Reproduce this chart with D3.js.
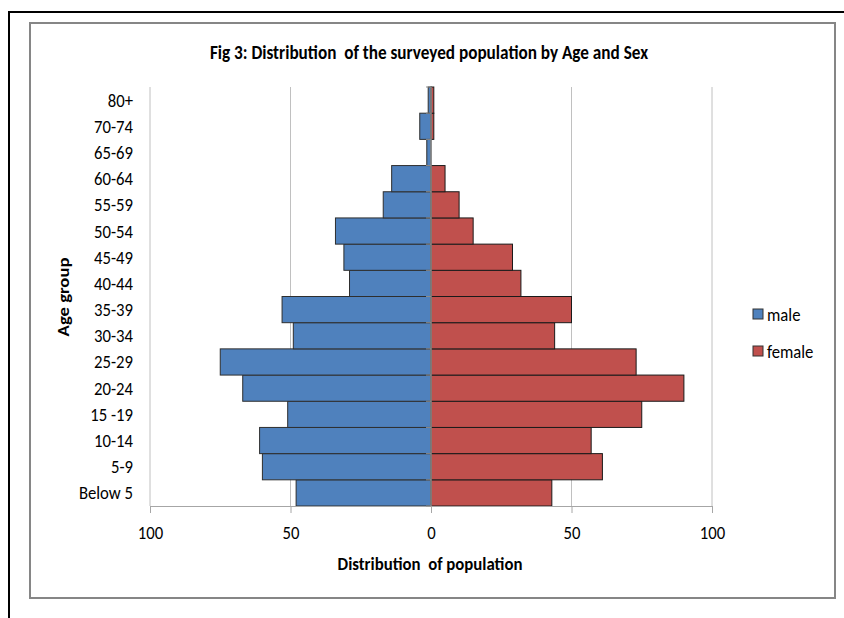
<!DOCTYPE html>
<html>
<head>
<meta charset="utf-8">
<script src="https://cdn.jsdelivr.net/npm/d3@7"></script>
<style>
  html, body { margin: 0; padding: 0; background: #fff; }
  svg { display: block; }
  text { font-family: Carlito, "Liberation Sans", Arial, sans-serif; }
</style>
</head>
<body>
<svg id="chart" width="844" height="618"></svg>
<script>
const categories = ["Below 5", "5-9", "10-14", "15 -19", "20-24", "25-29", "30-34", "35-39",
                    "40-44", "45-49", "50-54", "55-59", "60-64", "65-69", "70-74", "80+"];
const male   = [48, 60, 61, 51, 67, 75, 49, 53, 29, 31, 34, 17, 14, 1.5, 4, 1];
const female = [43, 61, 57, 75, 90, 73, 44, 50, 32, 29, 15, 10, 5, 0, 1, 1];
const xTicks = [-100, -50, 0, 50, 100];
const seriesNames = ["male", "female"];
const seriesColors = ["#4F81BD", "#C0504D"];
const titleText = "Fig 3: Distribution  of the surveyed population by Age and Sex";
const xTitle = "Distribution  of population";
const yTitle = "Age group";

const SY = 1.11;   // vertical stretch of glyphs seen in the reference
const FS = 16.7;

const svg = d3.select("#chart");

function label(g, x, y, str, opts = {}) {
  return g.append("text")
    .attr("transform", `translate(${x},${y}) scale(1,${SY})`)
    .attr("dy", "0.35em")
    .attr("text-anchor", opts.anchor || "start")
    .attr("font-size", opts.size || FS)
    .attr("font-weight", opts.bold ? "bold" : "normal")
    .attr("fill", "#000")
    .style("white-space", "pre")
    .text(str);
}

// outer frame (extends beyond window on right/bottom)
svg.append("rect").attr("x", 9).attr("y", 12).attr("width", 900).attr("height", 700)
  .attr("fill", "none").attr("stroke", "#000").attr("stroke-width", 2);
// chart area frame
svg.append("rect").attr("x", 30).attr("y", 23).attr("width", 805).attr("height", 575)
  .attr("fill", "#fff").attr("stroke", "#868686").attr("stroke-width", 2);

const x = d3.scaleLinear().domain([-100, 100]).range([150, 712]);
const y = d3.scaleBand().domain(categories.slice().reverse()).range([87, 506]).padding(0);

const data = categories.map((c, i) => ({ cat: c, male: male[i], female: female[i] }));

// gridlines
svg.append("g").selectAll("line").data(xTicks.filter(d => d !== 0)).join("line")
  .attr("x1", d => x(d)).attr("x2", d => x(d))
  .attr("y1", 87).attr("y2", 506)
  .attr("stroke", "#c0c0c0").attr("stroke-width", 1);

// bars
const bars = svg.append("g");
bars.selectAll("rect.male").data(data).join("rect").attr("class", "male")
  .attr("x", d => x(-d.male)).attr("width", d => x(0) - x(-d.male))
  .attr("y", d => y(d.cat)).attr("height", y.bandwidth())
  .attr("fill", seriesColors[0]).attr("stroke", "#2e2e2e").attr("stroke-width", 1);
bars.selectAll("rect.female").data(data.filter(d => d.female > 0)).join("rect").attr("class", "female")
  .attr("x", x(0)).attr("width", d => x(d.female) - x(0))
  .attr("y", d => y(d.cat)).attr("height", y.bandwidth())
  .attr("fill", seriesColors[1]).attr("stroke", "#1a1a1a").attr("stroke-width", 1);

// x axis
const xAxis = d3.axisBottom(x).tickValues(xTicks).tickFormat(d => Math.abs(d)).tickSize(7);
const gx = svg.append("g").attr("transform", "translate(0,506)").call(xAxis);
gx.select(".domain").attr("stroke", "#a6a6a6");
gx.selectAll(".tick line").attr("stroke", "#a6a6a6");
gx.selectAll(".tick text")
  .attr("y", null).attr("dy", "0.35em")
  .attr("transform", `translate(0,26) scale(1,${SY})`)
  .attr("font-size", FS).attr("fill", "#000")
  .style("font-family", "Carlito, 'Liberation Sans', Arial, sans-serif");

// y axis at zero
const gy = svg.append("g").attr("transform", `translate(${x(0)},0)`);
gy.append("line").attr("x1", 0).attr("x2", 0).attr("y1", 87).attr("y2", 506)
  .attr("stroke", "#8c8c8c").attr("stroke-width", 1.5);
// tick marks at category boundaries
const bounds = y.domain().map(c => y(c)).concat([506]);
gy.selectAll("line.tk").data(bounds).join("line").attr("class", "tk")
  .attr("x1", -5).attr("x2", 0).attr("y1", d => d).attr("y2", d => d)
  .attr("stroke", "#8c8c8c").attr("stroke-width", 1);

// category labels
const gl = svg.append("g");
categories.forEach(c => label(gl, 133, y(c) + y.bandwidth() / 2, c, { anchor: "end" }));

// title
label(svg, 429, 52, titleText, { anchor: "middle", bold: true, size: 17.2 });

// axis titles
label(svg, 430, 563, xTitle, { anchor: "middle", bold: true, size: 16.8 });
svg.append("text")
  .attr("transform", `translate(63,297) rotate(-90) scale(${SY},1)`)
  .attr("dy", "0.35em").attr("text-anchor", "middle")
  .attr("font-size", 16.8).attr("font-weight", "bold").attr("fill", "#000")
  .text(yTitle);

// legend
const lg = svg.append("g");
seriesNames.forEach((n, i) => {
  const ly = 314 + i * 37;
  lg.append("rect").attr("x", 753).attr("y", ly - 5).attr("width", 10).attr("height", 10)
    .attr("fill", seriesColors[i]).attr("stroke", "#333").attr("stroke-width", 1);
  label(lg, 767, ly, n, {});
});
</script>
</body>
</html>
